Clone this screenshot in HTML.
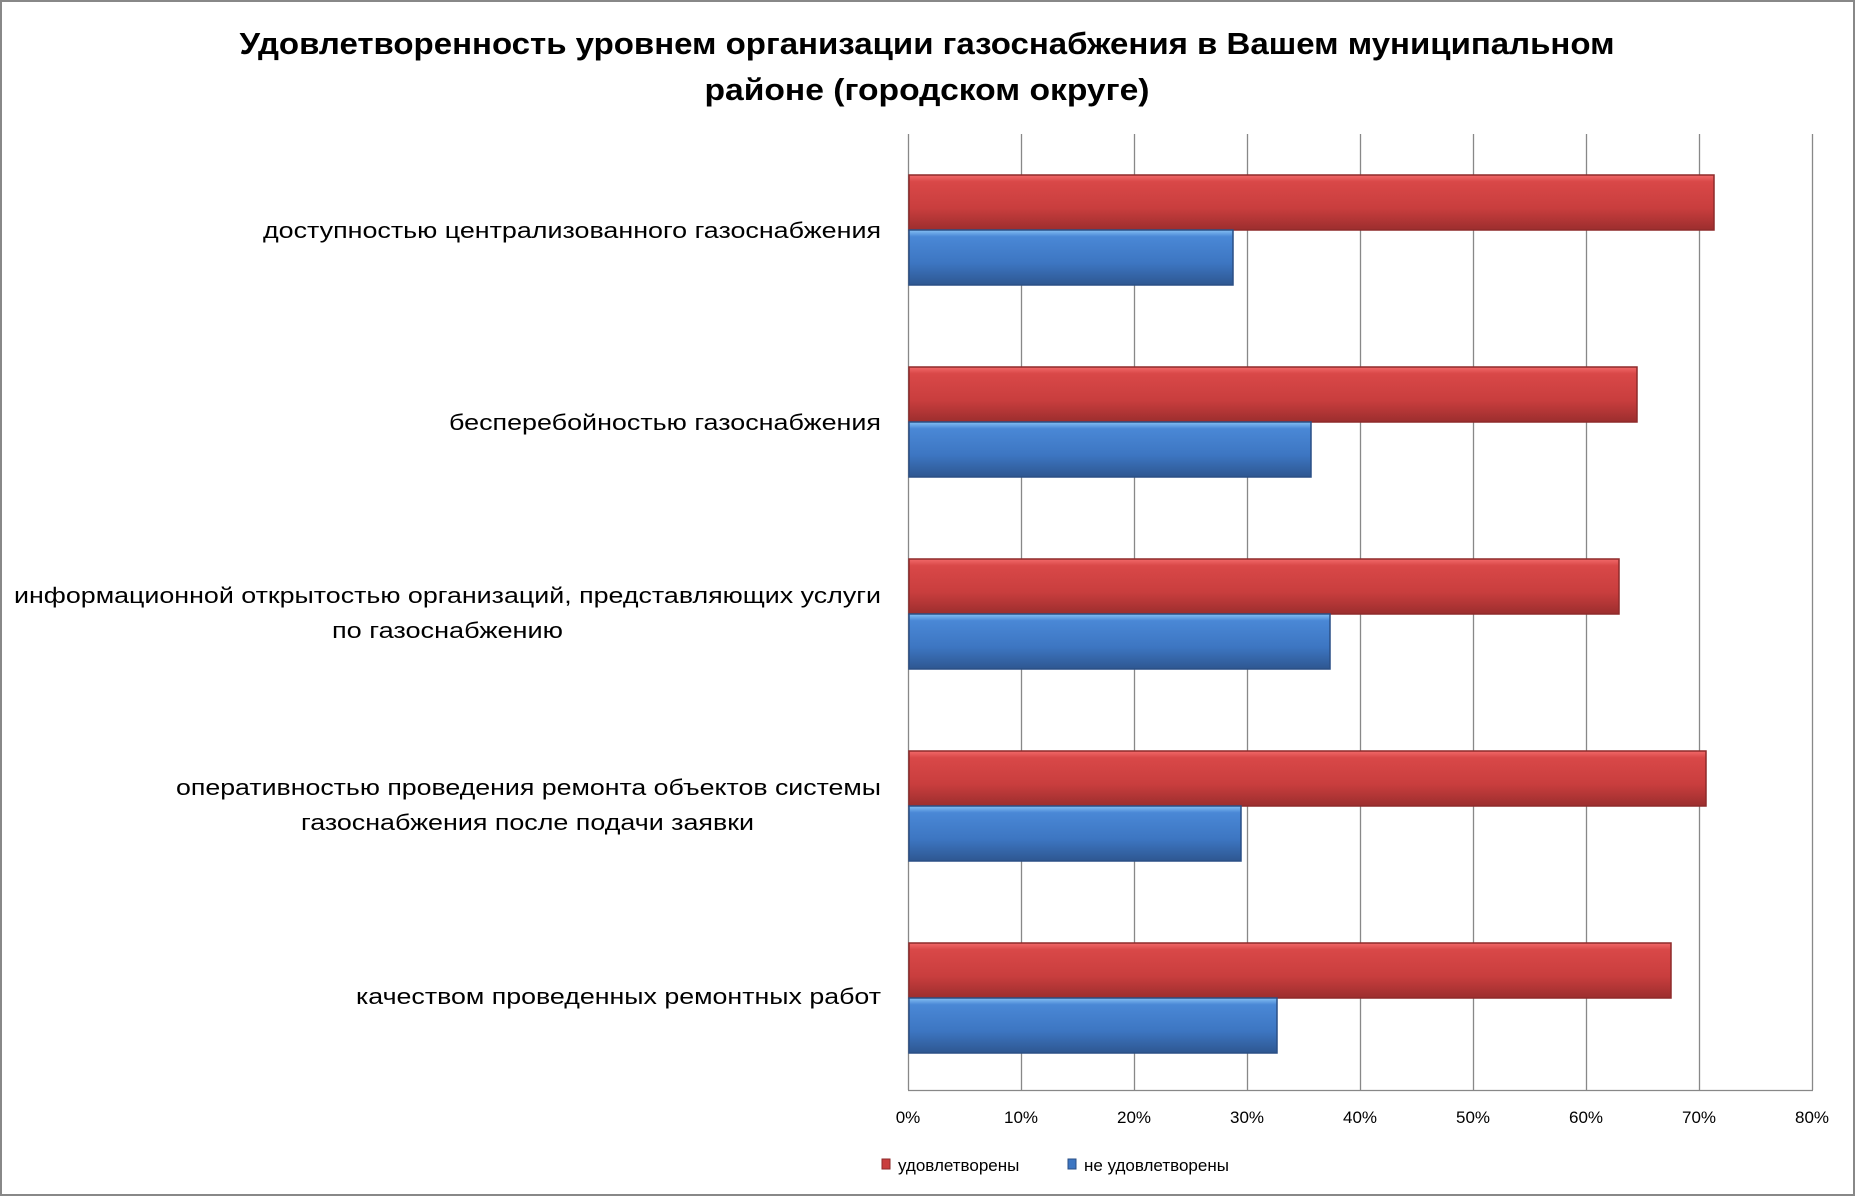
<!DOCTYPE html>
<html><head><meta charset="utf-8"><style>
html,body{margin:0;padding:0;background:#fff;}
svg{display:block;}
text{font-family:"Liberation Sans","DejaVu Sans",sans-serif;}
</style></head><body>
<svg width="1855" height="1196" viewBox="0 0 1855 1196" xmlns="http://www.w3.org/2000/svg">
<defs>
<linearGradient id="r" x1="0" y1="0" x2="0" y2="1">
<stop offset="0" stop-color="#f26a6a"/><stop offset="0.12" stop-color="#d94848"/><stop offset="0.6" stop-color="#c93e3e"/><stop offset="1" stop-color="#9c2e2e"/>
</linearGradient>
<linearGradient id="b" x1="0" y1="0" x2="0" y2="1">
<stop offset="0" stop-color="#86c0f4"/><stop offset="0.12" stop-color="#4a88d6"/><stop offset="0.6" stop-color="#3d76c2"/><stop offset="1" stop-color="#2e5791"/>
</linearGradient>
</defs>
<rect x="1" y="1" width="1853" height="1194" fill="#fff" stroke="#888" stroke-width="2"/>
<text x="927" y="54" font-size="31" font-weight="bold" text-anchor="middle" textLength="1375" lengthAdjust="spacingAndGlyphs">Удовлетворенность уровнем организации газоснабжения в Вашем муниципальном</text>
<text x="927" y="100" font-size="31" font-weight="bold" text-anchor="middle" textLength="445" lengthAdjust="spacingAndGlyphs">районе (городском округе)</text>
<g stroke="#888" stroke-width="1.3">
<line x1="908.5" y1="134" x2="908.5" y2="1090"/>
<line x1="1021.5" y1="134" x2="1021.5" y2="1090"/>
<line x1="1134.5" y1="134" x2="1134.5" y2="1090"/>
<line x1="1247.5" y1="134" x2="1247.5" y2="1090"/>
<line x1="1360.5" y1="134" x2="1360.5" y2="1090"/>
<line x1="1473.5" y1="134" x2="1473.5" y2="1090"/>
<line x1="1586.5" y1="134" x2="1586.5" y2="1090"/>
<line x1="1699.5" y1="134" x2="1699.5" y2="1090"/>
<line x1="1812.5" y1="134" x2="1812.5" y2="1090"/>
<line x1="908" y1="1090.5" x2="1813" y2="1090.5"/>
</g>
<g stroke-width="1.5">
<rect x="909" y="175" width="805" height="55" fill="url(#r)" stroke="#8e2a2a"/>
<rect x="909" y="230" width="324" height="55" fill="url(#b)" stroke="#2a4f85"/>
<rect x="909" y="367" width="728" height="55" fill="url(#r)" stroke="#8e2a2a"/>
<rect x="909" y="422" width="402" height="55" fill="url(#b)" stroke="#2a4f85"/>
<rect x="909" y="559" width="710" height="55" fill="url(#r)" stroke="#8e2a2a"/>
<rect x="909" y="614" width="421" height="55" fill="url(#b)" stroke="#2a4f85"/>
<rect x="909" y="751" width="797" height="55" fill="url(#r)" stroke="#8e2a2a"/>
<rect x="909" y="806" width="332" height="55" fill="url(#b)" stroke="#2a4f85"/>
<rect x="909" y="943" width="762" height="55" fill="url(#r)" stroke="#8e2a2a"/>
<rect x="909" y="998" width="368" height="55" fill="url(#b)" stroke="#2a4f85"/>
</g>
<g font-size="22" text-anchor="end" fill="#000">
<text x="881" y="238" textLength="618" lengthAdjust="spacingAndGlyphs">доступностью централизованного газоснабжения</text>
<text x="881" y="430" textLength="432" lengthAdjust="spacingAndGlyphs">бесперебойностью  газоснабжения</text>
<text x="881" y="603" textLength="867" lengthAdjust="spacingAndGlyphs">информационной открытостью организаций, представляющих услуги</text>
<text x="563" y="638" text-anchor="end" textLength="231" lengthAdjust="spacingAndGlyphs">по газоснабжению</text>
<text x="881" y="795" textLength="705" lengthAdjust="spacingAndGlyphs">оперативностью проведения ремонта объектов системы</text>
<text x="754" y="830" textLength="453" lengthAdjust="spacingAndGlyphs">газоснабжения после подачи заявки</text>
<text x="881" y="1004" textLength="525" lengthAdjust="spacingAndGlyphs">качеством проведенных ремонтных работ</text>
</g>
<g font-size="17" text-anchor="middle" fill="#000">
<text x="908" y="1123">0%</text><text x="1021" y="1123">10%</text><text x="1134" y="1123">20%</text>
<text x="1247" y="1123">30%</text><text x="1360" y="1123">40%</text><text x="1473" y="1123">50%</text>
<text x="1586" y="1123">60%</text><text x="1699" y="1123">70%</text><text x="1812" y="1123">80%</text>
</g>
<rect x="882" y="1159" width="8" height="10" fill="#c93e3e" stroke="#8e2a2a"/>
<text x="898" y="1171" font-size="17">удовлетворены</text>
<rect x="1068" y="1159" width="8" height="10" fill="#3d76c2" stroke="#2a4f85"/>
<text x="1084" y="1171" font-size="17">не удовлетворены</text>
</svg>
</body></html>
